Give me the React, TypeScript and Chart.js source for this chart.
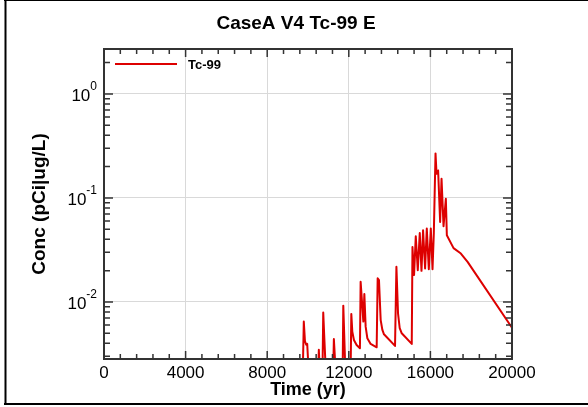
import React, { useEffect, useRef } from 'react';
import { Chart, registerables } from 'chart.js';

Chart.register(...registerables);

const TITLE = 'CaseA V4 Tc-99 E';
const SERIES_NAME = 'Tc-99';
const X_TITLE = 'Time (yr)';
const Y_TITLE = 'Conc (pCi|ug/L)';

const timesYr = [
  0, 9730, 9794, 9850, 9912, 9961, 10074, 10480, 10531, 10614, 10700, 10747, 10800, 10909,
  11220, 11268, 11400, 11690, 11730, 11858, 12080, 12123, 12172, 12251, 12383, 12546,
  12580, 12713, 12762, 12826, 12909, 13071, 13366, 13415, 13479, 13563, 13646, 13725, 14266, 14334,
  14413, 14496, 14595, 15086, 15121, 15199, 15283, 15381, 15479, 15563, 15641, 15740,
  15823, 15922, 16020, 16104, 16168, 16251, 16300, 16379, 16477, 16546, 16644,
  16757, 16806, 17135, 17494, 17823, 20000,
];
const concValues = [
  0.0005, 0.0015, 0.00648, 0.0042, 0.00388, 0.00396, 0.0015, 0.0015, 0.00347, 0.0015, 0.0015, 0.0079, 0.0045, 0.0015,
  0.0015, 0.0044, 0.0015, 0.0015, 0.00922, 0.0015, 0.0015, 0.00768, 0.00518, 0.00431, 0.00386, 0.00359,
  0.01564, 0.00648, 0.01193, 0.00579, 0.00448, 0.00395, 0.00367, 0.01686, 0.0162, 0.0067, 0.00538, 0.00489, 0.00378, 0.02177,
  0.00778, 0.00559, 0.005, 0.00395, 0.0338, 0.01813, 0.0428, 0.0202, 0.046, 0.0199, 0.0489, 0.021,
  0.0507, 0.0206, 0.0507, 0.0206, 0.0457, 0.268, 0.1704, 0.1834, 0.0586, 0.1526, 0.0534,
  0.0982, 0.0438, 0.0329, 0.0292, 0.0243, 0.00566,
];

const xTickValues = [0, 4000, 8000, 12000, 16000, 20000];
const xTickLabels = ['0', '4000', '8000', '12000', '16000', '20000'];
const xMinorStep = 800;
const yTickExponents = [-2, -1, 0];
const X_MIN = 0;
const X_MAX = 20000;
const Y_MIN = 0.00283;
const Y_MAX = 2.7;

const LINE_COLOR = '#dd0000';
const AXIS_COLOR = '#333333';
const GRID_COLOR = '#d9d9d9';
const FONT = '"Liberation Sans", Arial, Helvetica, sans-serif';

const decorPlugin = {
  id: 'decor',
  beforeDraw(chart: any) {
    const { ctx, width, height } = chart;
    ctx.save();
    ctx.fillStyle = '#ffffff';
    ctx.fillRect(0, 0, width, height);
    ctx.strokeStyle = '#000000';
    ctx.lineWidth = 1;
    ctx.beginPath();
    ctx.moveTo(4, 0.5);
    ctx.lineTo(width, 0.5);
    ctx.stroke();
    ctx.lineWidth = 2;
    ctx.beginPath();
    ctx.moveTo(5.5, 0);
    ctx.lineTo(5.5, 405);
    ctx.moveTo(4, 404);
    ctx.lineTo(width, 404);
    ctx.stroke();
    ctx.restore();
  },
  afterDraw(chart: any) {
    const { ctx, chartArea: a } = chart;
    const xs = chart.scales.x;
    const ys = chart.scales.y;
    ctx.save();
    // ticks
    ctx.strokeStyle = AXIS_COLOR;
    ctx.lineWidth = 1.5;
    ctx.beginPath();
    for (let v = X_MIN; v <= X_MAX; v += xMinorStep) {
      const px = xs.getPixelForValue(v);
      const major = v % 4000 === 0;
      const len = major ? 8 : 5;
      ctx.moveTo(px, a.bottom);
      ctx.lineTo(px, a.bottom - len);
      ctx.moveTo(px, a.top);
      ctx.lineTo(px, a.top + len);
    }
    for (let n = -3; n <= 0; n++) {
      for (let m = 1; m <= 9; m++) {
        const v = m * Math.pow(10, n);
        if (v < Y_MIN || v > Y_MAX) continue;
        const py = ys.getPixelForValue(v);
        const len = m === 1 ? 9 : 6;
        ctx.moveTo(a.left, py);
        ctx.lineTo(a.left + len, py);
        ctx.moveTo(a.right, py);
        ctx.lineTo(a.right - len, py);
      }
    }
    ctx.stroke();
    // frame
    ctx.lineWidth = 2;
    ctx.strokeRect(a.left, a.top, a.right - a.left, a.bottom - a.top);

    // x tick labels
    ctx.fillStyle = '#000000';
    ctx.font = `17px ${FONT}`;
    ctx.textAlign = 'center';
    ctx.textBaseline = 'middle';
    xTickValues.forEach((v, i) => {
      ctx.fillText(xTickLabels[i], xs.getPixelForValue(v), 373);
    });

    // y tick labels with superscript exponents
    yTickExponents.forEach((e) => {
      const py = ys.getPixelForValue(Math.pow(10, e));
      const expStr = String(e);
      ctx.font = `12px ${FONT}`;
      const expW = ctx.measureText(expStr).width;
      ctx.font = `17px ${FONT}`;
      const baseW = ctx.measureText('10').width;
      const right = 97;
      ctx.textAlign = 'left';
      ctx.textBaseline = 'middle';
      ctx.fillText('10', right - expW - baseW, py + 2);
      ctx.font = `12px ${FONT}`;
      ctx.fillText(expStr, right - expW, py - 7);
    });

    // titles
    ctx.textAlign = 'center';
    ctx.textBaseline = 'middle';
    ctx.font = `bold 19px ${FONT}`;
    ctx.fillText(TITLE, 296, 24);
    ctx.font = `bold 18px ${FONT}`;
    ctx.fillText(X_TITLE, (a.left + a.right) / 2, 390);
    ctx.save();
    ctx.translate(40, (a.top + a.bottom) / 2);
    ctx.rotate(-Math.PI / 2);
    ctx.font = `bold 19px ${FONT}`;
    ctx.fillText(Y_TITLE, 0, 0);
    ctx.restore();

    // legend
    ctx.strokeStyle = LINE_COLOR;
    ctx.lineWidth = 2;
    ctx.beginPath();
    ctx.moveTo(a.left + 11, 64);
    ctx.lineTo(a.left + 73, 64);
    ctx.stroke();
    ctx.fillStyle = '#000000';
    ctx.font = `bold 13px ${FONT}`;
    ctx.textAlign = 'left';
    ctx.fillText(SERIES_NAME, a.left + 84, 65);
    ctx.restore();
  },
};

export default function App() {
  const canvasRef = useRef<HTMLCanvasElement | null>(null);

  useEffect(() => {
    document.body.style.margin = '0';
    const canvas = canvasRef.current;
    if (!canvas) return;
    const chart = new Chart(canvas, {
      type: 'line',
      data: {
        datasets: [
          {
            label: SERIES_NAME,
            data: timesYr.map((t, i) => ({ x: t, y: concValues[i] })),
            borderColor: LINE_COLOR,
            backgroundColor: LINE_COLOR,
            borderWidth: 2,
            pointRadius: 0,
            tension: 0,
            fill: false,
            borderJoinStyle: 'round',
          },
        ],
      },
      options: {
        animation: false,
        responsive: false,
        maintainAspectRatio: false,
        devicePixelRatio: 1,
        layout: { padding: { left: 104, right: 76, top: 49, bottom: 48 } },
        plugins: {
          legend: { display: false },
          title: { display: false },
          tooltip: { enabled: false },
        },
        scales: {
          x: {
            type: 'linear',
            min: X_MIN,
            max: X_MAX,
            ticks: { display: false, stepSize: 4000 },
            grid: {
              drawTicks: false,
              lineWidth: 1,
              color: (c: any) =>
                c.tick && (c.tick.value === X_MIN || c.tick.value === X_MAX) ? 'rgba(0,0,0,0)' : GRID_COLOR,
            },
            border: { display: false },
          },
          y: {
            type: 'logarithmic',
            min: Y_MIN,
            max: Y_MAX,
            ticks: { display: false },
            afterBuildTicks: (s: any) => {
              s.ticks = yTickExponents.map((e) => ({ value: Math.pow(10, e) }));
            },
            grid: { drawTicks: false, lineWidth: 1, color: GRID_COLOR },
            border: { display: false },
          },
        },
      } as any,
      plugins: [decorPlugin],
    });
    return () => chart.destroy();
  }, []);

  return (
    <div style={{ width: 588, height: 407 }}>
      <canvas ref={canvasRef} width={588} height={407} style={{ display: 'block' }} />
    </div>
  );
}
